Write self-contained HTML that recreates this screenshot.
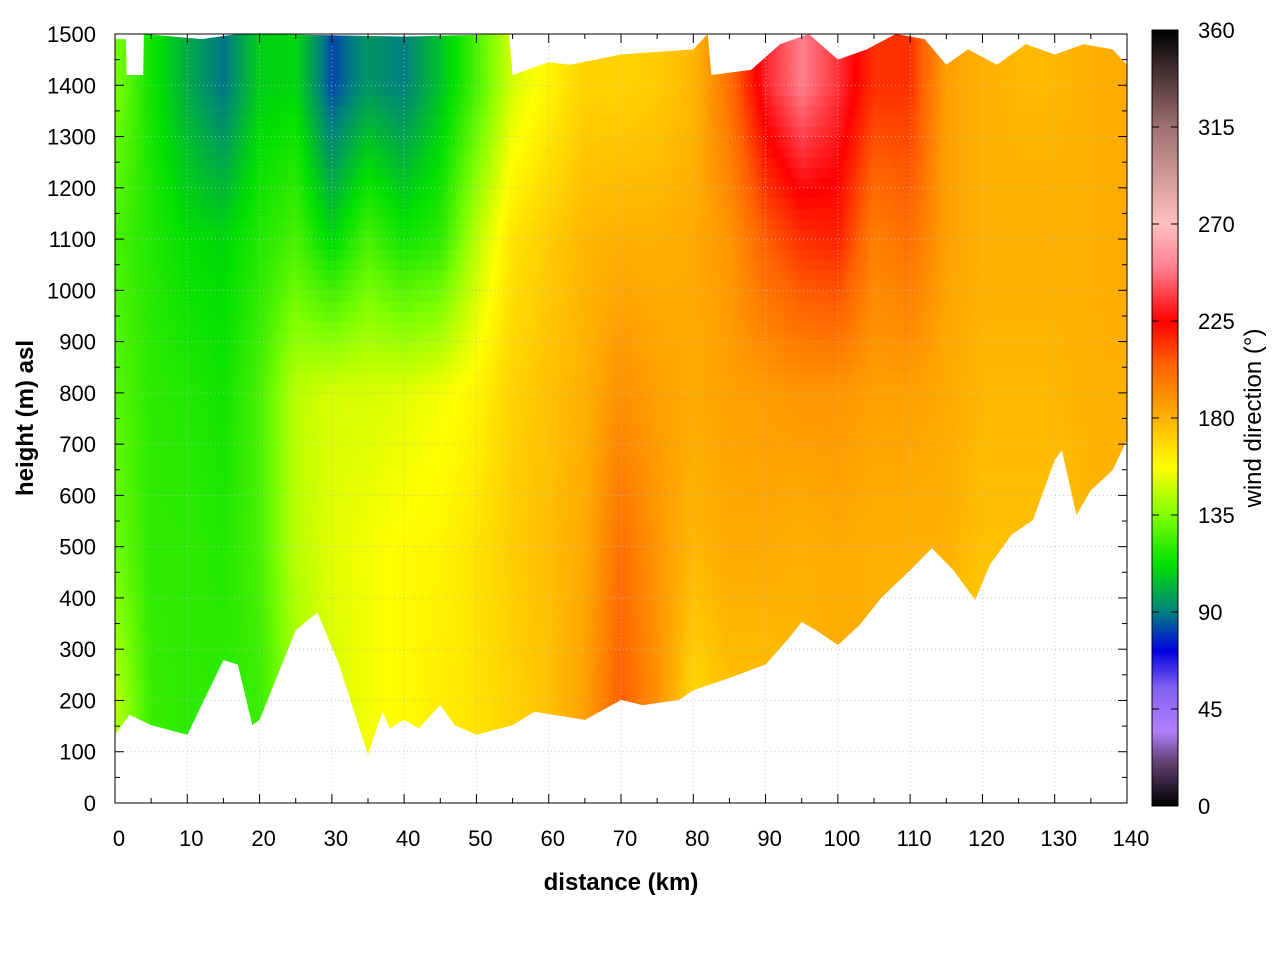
<!DOCTYPE html>
<html><head><meta charset="utf-8"><style>
body{margin:0;background:#fff;}
svg text{font-family:"Liberation Sans",sans-serif;}
</style></head><body>
<svg id="chart" width="1280" height="960" xmlns="http://www.w3.org/2000/svg">
<defs><clipPath id="domain"><path id="domainPath"/></clipPath>
<linearGradient id="cbGrad" x1="0" y1="1" x2="0" y2="0"></linearGradient></defs>
<g id="heat" clip-path="url(#domain)"></g>
<g id="grid"></g>
<g id="axes"></g>
<g id="cbar"></g>
</svg>
<script>
// --- data ---
const colKm = [0,5,10,15,20,25,30,35,40,45,50,55,60,65,70,75,80,85,90,95,100,105,110,115,120,125,130,135,140];
const levelM = [200,500,800,1100,1400];
const dir200 = [145,122,120,120,122,140,150,155,158,162,165,170,175,185,205,190,168,175,175,178,180,180,178,175,170,168,170,175,178];
const dir500 = [132,120,120,118,125,145,152,155,158,160,165,172,176,182,200,188,178,182,182,180,182,180,180,180,175,175,175,178,180];
const dir800 = [128,120,118,115,125,145,150,150,152,155,160,170,175,180,190,185,182,185,186,188,188,185,185,182,178,178,178,180,180];
const dir1100 = [125,118,112,110,118,125,110,125,115,120,145,165,172,178,180,180,182,188,205,215,218,195,200,185,180,180,180,180,182];
const dir1400 = [135,115,100,88,108,110,82,95,90,105,125,150,160,170,170,172,178,200,232,250,235,215,215,185,180,178,178,180,182];
const groundKm = [0,2,5,10,15,17,19,20,25,28,31,35,37,38,40,42,45,47,50,55,58,65,70,73,78,80,85,90,93,95,97,100,103,106,110,113,116,119,121,124,127,130,131,133,135,138,140];
const groundM = [133,172,152,133,279,270,152,162,337,372,270,94,178,146,162,146,191,152,133,152,178,162,201,191,201,220,244,270,318,353,337,308,347,400,454,497,454,396,464,523,552,669,688,562,610,649,708];
const topKm = [0,1.5,1.6,3.9,4,12,17,20,40,54.5,55,60,63,70,80,82,82.5,88,92,96,100,104,108,112,115,118,122,126,130,134,138,140];
const topM = [1490,1490,1420,1420,1500,1490,1500,1500,1495,1500,1420,1445,1440,1460,1470,1500,1420,1430,1480,1500,1450,1470,1500,1490,1440,1470,1440,1480,1460,1480,1470,1440];
const xTicks = [0,10,20,30,40,50,60,70,80,90,100,110,120,130,140];
const yTicks = [0,100,200,300,400,500,600,700,800,900,1000,1100,1200,1300,1400,1500];
const cbTicks = [0,45,90,135,180,225,270,315,360];
const cmapVal = [0,20,35,55,72,90,112,135,157,180,205,225,250,270,315,360];
const cmapCol = ['#000000','#604070','#b080ff','#8060f0','#0000e0','#008080','#00e000','#80ff00','#ffff00','#ffb000','#ff6000','#ff0000','#ff8090','#ffc0c0','#a07070','#000000'];
// --- scales ---
const X0=115,X1=1127,Y0=803,Y1=34;
const xs=k=>X0+(X1-X0)*k/140, ys=m=>Y0-(Y0-Y1)*m/1500;
const NS='http://www.w3.org/2000/svg';
function mk(t,a,p){const e=document.createElementNS(NS,t);for(const k in a)e.setAttribute(k,a[k]);p.appendChild(e);return e;}
function interp(xa,ya,x){if(x<=xa[0])return ya[0];for(let i=1;i<xa.length;i++)if(x<=xa[i]){const t=(x-xa[i-1])/(xa[i]-xa[i-1]);return ya[i-1]+t*(ya[i]-ya[i-1]);}return ya[ya.length-1];}
function hex(c){return [1,3,5].map(i=>parseInt(c.substr(i,2),16));}
function cmap(v){for(let i=1;i<cmapVal.length;i++)if(v<=cmapVal[i]){const t=(v-cmapVal[i-1])/(cmapVal[i]-cmapVal[i-1]);const a=hex(cmapCol[i-1]),b=hex(cmapCol[i]);return 'rgb('+a.map((x,j)=>Math.round(x+t*(b[j]-x))).join(',')+')';}return '#000';}
const layers=[dir200,dir500,dir800,dir1100,dir1400];
// --- heatmap ---
const heat=document.getElementById('heat');
const dk=0.5,dm=20;
for(let k=0;k<140;k+=dk){
  const prof=layers.map(L=>interp(colKm,L,k+dk/2));
  for(let m=0;m<1500;m+=dm){
    const v=interp(levelM,prof,m+dm/2);
    const r=mk('rect',{x:xs(k).toFixed(2),y:ys(m+dm).toFixed(2),width:(xs(dk)-X0+0.6).toFixed(2),height:(ys(0)-ys(dm)+0.6).toFixed(2),fill:cmap(v)},heat);
    
    
  }
}
let d='';
for(let i=0;i<groundKm.length;i++)d+=(i?'L':'M')+xs(groundKm[i]).toFixed(1)+','+ys(groundM[i]).toFixed(1);
for(let i=topKm.length-1;i>=0;i--)d+='L'+xs(topKm[i]).toFixed(1)+','+ys(topM[i]).toFixed(1);
document.getElementById('domainPath').setAttribute('d',d+'Z');
// --- grid & axes ---
const grid=document.getElementById('grid'),axes=document.getElementById('axes');
xTicks.forEach(t=>{
  const x=xs(t);
  if(t>0&&t<140)mk('line',{x1:x,x2:x,y1:Y0,y2:Y1,stroke:'#bbb','stroke-width':0.8,'stroke-dasharray':'1,3'},grid);
  mk('line',{x1:x,x2:x,y1:Y0,y2:Y0-9,stroke:'#000'},axes);mk('line',{x1:x,x2:x,y1:Y1,y2:Y1+9,stroke:'#000'},axes);
  if(t<140){const xm=xs(t+5);mk('line',{x1:xm,x2:xm,y1:Y0,y2:Y0-5,stroke:'#000'},axes);mk('line',{x1:xm,x2:xm,y1:Y1,y2:Y1+5,stroke:'#000'},axes);}
  const l=mk('text',{x:x+4,y:846,'font-size':22,'text-anchor':'middle'},axes);l.textContent=t;
  
});
yTicks.forEach(t=>{
  const y=ys(t);
  if(t>0&&t<1500)mk('line',{x1:X0,x2:X1,y1:y,y2:y,stroke:'#bbb','stroke-width':0.8,'stroke-dasharray':'1,3'},grid);
  mk('line',{x1:X0,x2:X0+9,y1:y,y2:y,stroke:'#000'},axes);mk('line',{x1:X1,x2:X1-9,y1:y,y2:y,stroke:'#000'},axes);
  if(t<1500){const ym=ys(t+50);mk('line',{x1:X0,x2:X0+5,y1:ym,y2:ym,stroke:'#000'},axes);mk('line',{x1:X1,x2:X1-5,y1:ym,y2:ym,stroke:'#000'},axes);}
  const l=mk('text',{x:96,y:y+8,'font-size':22,'text-anchor':'end'},axes);l.textContent=t;
  
});
mk('rect',{x:X0,y:Y1,width:X1-X0,height:Y0-Y1,fill:'none',stroke:'#000'},axes);
let t1=mk('text',{x:621,y:890,'font-size':24,'font-weight':'bold','text-anchor':'middle'},axes);t1.textContent='distance (km)';

let t2=mk('text',{x:0,y:0,'font-size':24,'font-weight':'bold','text-anchor':'middle',transform:'translate(33,418) rotate(-90)'},axes);t2.textContent='height (m) asl';

// --- colorbar ---
const grad=document.getElementById('cbGrad');
cmapVal.forEach((v,i)=>mk('stop',{offset:v/360,'stop-color':cmapCol[i]},grad));
const cb=document.getElementById('cbar');
const CB0=806,CB1=30;
mk('rect',{x:1152,y:CB1,width:26,height:CB0-CB1,fill:'url(#cbGrad)',stroke:'#000'},cb);
cbTicks.forEach(v=>{
  const y=CB0-(CB0-CB1)*v/360;
  mk('line',{x1:1152,x2:1159,y1:y,y2:y,stroke:'#000'},cb);mk('line',{x1:1178,x2:1171,y1:y,y2:y,stroke:'#000'},cb);
  const l=mk('text',{x:1198,y:y+8,'font-size':22},cb);l.textContent=v;
  
});
let t3=mk('text',{x:0,y:0,'font-size':24,'text-anchor':'middle',transform:'translate(1261,418) rotate(-90)'},cb);t3.textContent='wind direction (°)';

</script>
</body></html>
